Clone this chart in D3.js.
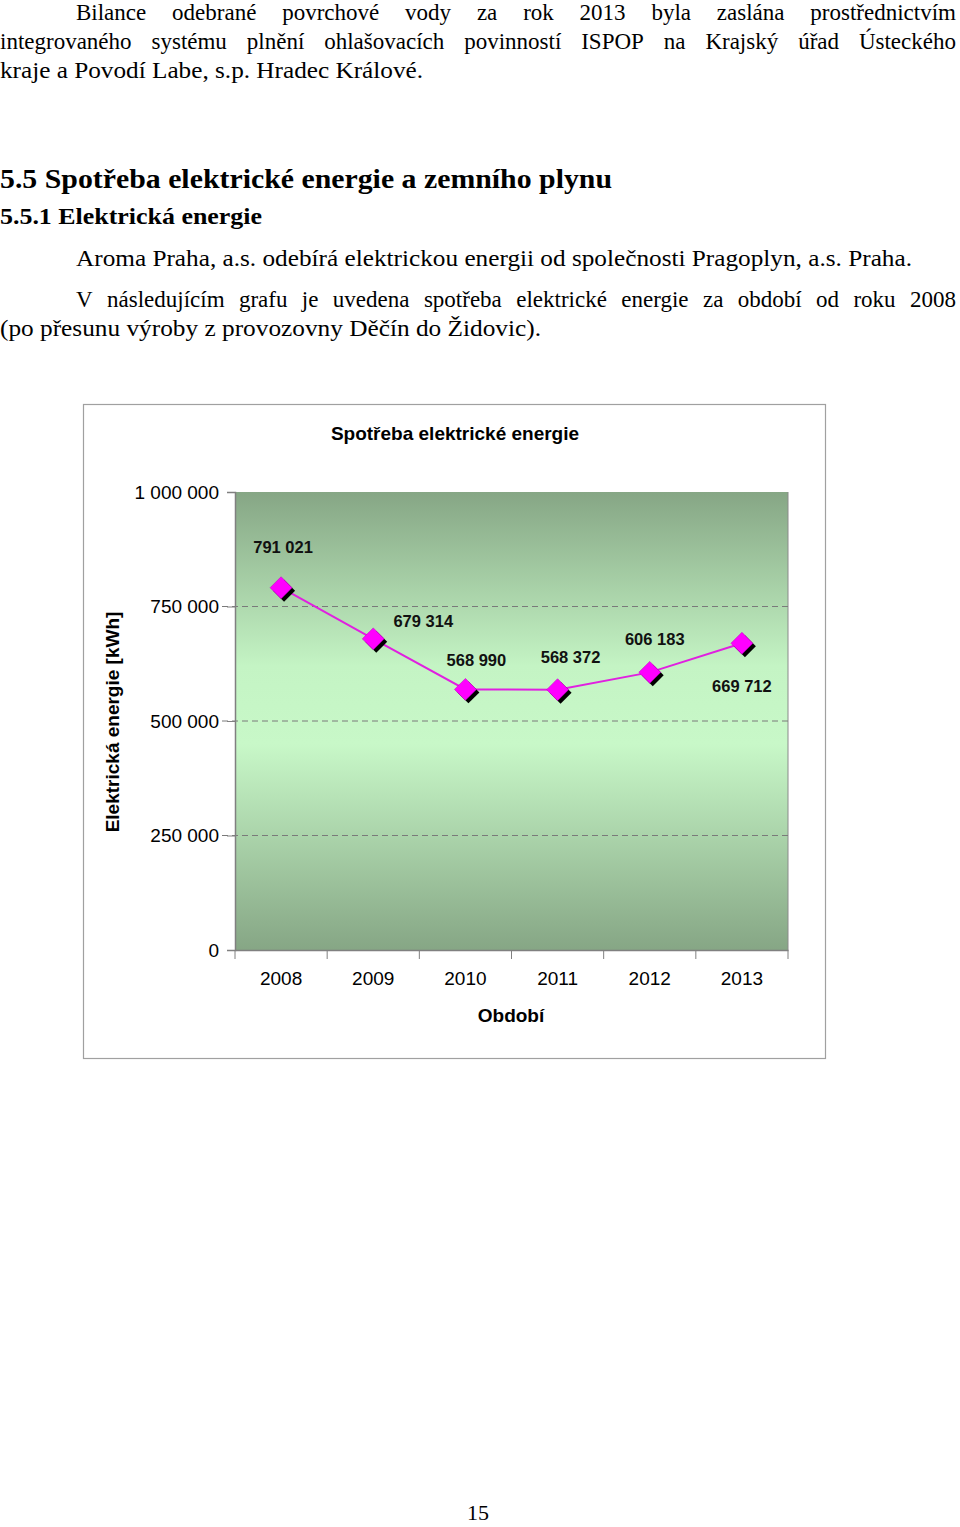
<!DOCTYPE html>
<html>
<head>
<meta charset="utf-8">
<script src="https://cdn.jsdelivr.net/npm/d3@7"></script>
<style>
  html, body { margin: 0; padding: 0; background: #fff; }
  svg { display: block; }
</style>
</head>
<body>
<svg id="page" width="960" height="1527"></svg>
<script>
// ---------- data ----------
const years = ["2008", "2009", "2010", "2011", "2012", "2013"];
const consumption = [791021, 679314, 568990, 568372, 606183, 669712];
const valueLabels = ["791 021", "679 314", "568 990", "568 372", "606 183", "669 712"];
const yTicks = [0, 250000, 500000, 750000, 1000000];
const yTickLabels = ["0", "250 000", "500 000", "750 000", "1 000 000"];
const chartTitle = "Spotřeba elektrické energie";
const xTitle = "Období";
const yTitle = "Elektrická energie [kWh]";

// label placement (layout only)
const labelOffsets = [[2, -35], [50, -12], [11, -23], [13, -27], [5, -27], [0, 49]];

const svg = d3.select("#page");
const serif = "Liberation Serif";
const sans = "Liberation Sans";

// ---------- body text ----------
function justified(words, x0, x1, y, size, weight) {
  const t = svg.append("text").attr("y", y)
    .attr("font-family", serif).attr("font-size", size)
    .attr("font-weight", weight || "normal").attr("fill", "#000");
  const spans = words.map(w => t.append("tspan").text(w));
  const widths = spans.map(s => s.node().getComputedTextLength());
  const total = d3.sum(widths);
  const gap = (x1 - x0 - total) / (words.length - 1);
  let x = x0;
  spans.forEach((s, i) => { s.attr("x", x); x += widths[i] + gap; });
}
function fitted(str, x0, x1, y, size, weight) {
  svg.append("text").attr("x", x0).attr("y", y)
    .attr("font-family", serif).attr("font-size", size)
    .attr("font-weight", weight || "normal").attr("fill", "#000")
    .attr("textLength", x1 - x0).attr("lengthAdjust", "spacingAndGlyphs")
    .text(str);
}

justified("Bilance odebrané povrchové vody za rok 2013 byla zaslána prostřednictvím".split(" "), 76, 956, 20, 23);
justified("integrovaného systému plnění ohlašovacích povinností ISPOP na Krajský úřad Ústeckého".split(" "), 0, 956, 49, 23);
fitted("kraje a Povodí Labe, s.p. Hradec Králové.", 0, 423, 78, 23);

fitted("5.5  Spotřeba elektrické energie a zemního plynu", 0, 612, 188, 28, "bold");
fitted("5.5.1  Elektrická energie", 0, 262, 224, 23, "bold");

fitted("Aroma Praha, a.s. odebírá elektrickou energii od společnosti Pragoplyn, a.s. Praha.", 76, 912, 266, 23);
justified("V následujícím grafu je uvedena spotřeba elektrické energie za období od roku 2008".split(" "), 76, 956, 307, 23);
fitted("(po přesunu výroby z provozovny Děčín do Židovic).", 0, 541, 336, 23);

svg.append("text").attr("x", 478).attr("y", 1520).attr("text-anchor", "middle")
  .attr("font-family", serif).attr("font-size", 22).text("15");

// ---------- chart ----------
svg.append("rect").attr("x", 83.5).attr("y", 404.5).attr("width", 742).attr("height", 654)
  .attr("fill", "#fff").attr("stroke", "#a0a0a0").attr("stroke-width", 1.2);

svg.append("text").attr("x", 455).attr("y", 440).attr("text-anchor", "middle")
  .attr("font-family", sans).attr("font-size", 19).attr("font-weight", "bold")
  .text(chartTitle);

const plot = { left: 235, right: 788, top: 492, bottom: 950 };
const x = d3.scaleBand().domain(years).range([plot.left, plot.right]).padding(0);
const y = d3.scaleLinear().domain([0, 1000000]).range([plot.bottom, plot.top]);

const defs = svg.append("defs");
const grad = defs.append("linearGradient").attr("id", "bg").attr("x1", 0).attr("y1", 0).attr("x2", 0).attr("y2", 1);
[[0, "#86a685"], [0.38, "#c4f4c4"], [0.55, "#c8f8c8"], [1, "#86a685"]].forEach(([o, c]) =>
  grad.append("stop").attr("offset", o).attr("stop-color", c));

svg.append("rect").attr("x", plot.left).attr("y", plot.top)
  .attr("width", plot.right - plot.left).attr("height", plot.bottom - plot.top)
  .attr("fill", "url(#bg)");
svg.append("line").attr("x1", plot.right).attr("x2", plot.right).attr("y1", plot.top).attr("y2", plot.bottom)
  .attr("stroke", "#8a8a8a").attr("stroke-width", 1);

// gridlines
svg.append("g").selectAll("line").data(yTicks.filter(d => d > 0 && d < 1000000)).join("line")
  .attr("x1", 222).attr("x2", plot.right)
  .attr("y1", d => y(d)).attr("y2", d => y(d))
  .attr("stroke", "#7a7a7a").attr("stroke-width", 1).attr("stroke-dasharray", "6,4");

// y axis
const yAxis = d3.axisLeft(y).tickValues(yTicks).tickSize(8).tickPadding(8)
  .tickFormat((d, i) => yTickLabels[i]);
const gy = svg.append("g").attr("transform", `translate(${plot.left},0)`).call(yAxis);
gy.select(".domain").attr("stroke", "#808080").attr("stroke-width", 1.5);
gy.selectAll(".tick line").attr("stroke", "#808080");
gy.selectAll(".tick text").attr("font-family", sans).attr("font-size", 19).attr("fill", "#000");

// x axis
const xAxis = d3.axisBottom(x).tickSize(0).tickPadding(22);
const gx = svg.append("g").attr("transform", `translate(0,${plot.bottom})`).call(xAxis);
gx.select(".domain").attr("stroke", "#808080").attr("stroke-width", 1.5);
gx.selectAll(".tick text").attr("font-family", sans).attr("font-size", 19).attr("fill", "#000");
const boundaries = years.map(d => x(d)).concat([x(years[years.length - 1]) + x.bandwidth()]);
svg.append("g").selectAll("line").data(boundaries).join("line")
  .attr("x1", d => d).attr("x2", d => d).attr("y1", plot.bottom).attr("y2", plot.bottom + 9)
  .attr("stroke", "#808080").attr("stroke-width", 1);

// axis titles
svg.append("text").attr("x", 511).attr("y", 1022).attr("text-anchor", "middle")
  .attr("font-family", sans).attr("font-size", 19).attr("font-weight", "bold").text(xTitle);
svg.append("text").attr("transform", "translate(119,722) rotate(-90)").attr("text-anchor", "middle")
  .attr("font-family", sans).attr("font-size", 19).attr("font-weight", "bold").text(yTitle);

// line
const cx = d => x(d) + x.bandwidth() / 2;
const pts = years.map((yr, i) => [cx(yr), y(consumption[i])]);
svg.append("path").datum(pts).attr("d", d3.line())
  .attr("fill", "none").attr("stroke", "#e020e0").attr("stroke-width", 2);

// markers
const diamond = d3.symbol().type(d3.symbolSquare).size(240);
const mk = svg.append("g");
mk.selectAll("path.shadow").data(pts).join("path").attr("class", "shadow")
  .attr("d", diamond).attr("transform", d => `translate(${d[0] + 3},${d[1] + 3}) rotate(45)`)
  .attr("fill", "#000");
mk.selectAll("path.mark").data(pts).join("path").attr("class", "mark")
  .attr("d", diamond).attr("transform", d => `translate(${d[0]},${d[1]}) rotate(45)`)
  .attr("fill", "#ff00ff").attr("stroke", "#c000c0").attr("stroke-width", 0.5);

// value labels
svg.append("g").selectAll("text").data(pts).join("text")
  .attr("x", (d, i) => d[0] + labelOffsets[i][0])
  .attr("y", (d, i) => d[1] + labelOffsets[i][1])
  .attr("text-anchor", "middle")
  .attr("font-family", sans).attr("font-size", 16.5).attr("font-weight", "bold")
  .attr("fill", "#111")
  .text((d, i) => valueLabels[i]);
</script>
</body>
</html>
